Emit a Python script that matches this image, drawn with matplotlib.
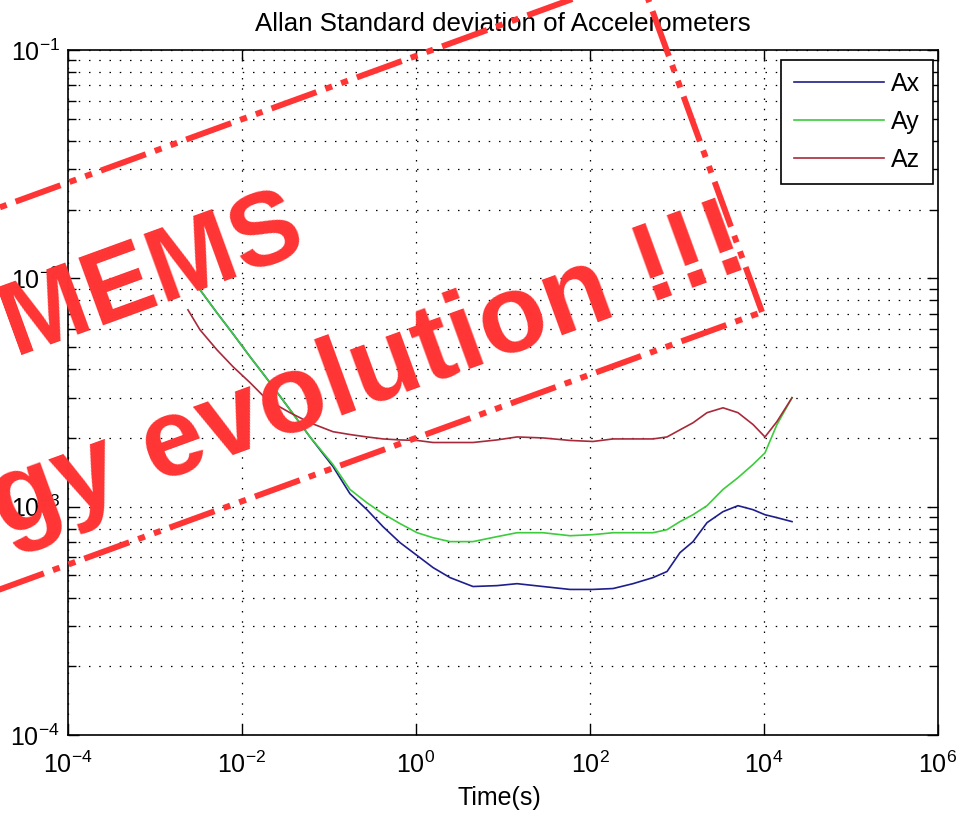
import numpy as np
import matplotlib
matplotlib.use("Agg")
import matplotlib.pyplot as plt
from matplotlib.lines import Line2D
from matplotlib.ticker import FixedLocator, LogLocator, NullLocator, FuncFormatter

plt.rcParams["font.family"] = ["Liberation Sans", "DejaVu Sans"]
plt.rcParams["mathtext.default"] = "regular"

# ---------------------------------------------------------------------------
# Data
# ---------------------------------------------------------------------------
tau = [2.39e-3, 3.29e-3, 5.16e-3, 7.89e-3, 1.24e-2, 1.94e-2, 3.56e-2, 6.05e-2,
       0.111, 0.174, 0.273, 0.418, 0.655, 1.03, 1.57, 2.46, 4.52, 8.53, 14.5,
       28.8, 58.9, 108, 184, 312, 530, 768, 1082, 1528, 2213, 3380, 5025,
       7475, 10260, 14100, 20990]

ax_dev = [1.05e-2, 8.91e-3, 7.06e-3, 5.71e-3, 4.53e-3, 3.63e-3, 2.66e-3, 2.02e-3,
          1.50e-3, 1.14e-3, 9.70e-4, 8.17e-4, 6.96e-4, 6.11e-4, 5.41e-4, 4.89e-4,
          4.47e-4, 4.51e-4, 4.60e-4, 4.47e-4, 4.34e-4, 4.34e-4, 4.38e-4, 4.60e-4,
          4.89e-4, 5.20e-4, 6.29e-4, 7.03e-4, 8.51e-4, 9.51e-4, 1.01e-3, 9.70e-4,
          9.22e-4, 8.95e-4, 8.60e-4]

ay_dev = [1.05e-2, 8.91e-3, 7.06e-3, 5.71e-3, 4.53e-3, 3.63e-3, 2.66e-3, 2.02e-3,
          1.53e-3, 1.19e-3, 1.04e-3, 9.31e-4, 8.43e-4, 7.69e-4, 7.31e-4, 7.03e-4,
          7.03e-4, 7.39e-4, 7.69e-4, 7.69e-4, 7.46e-4, 7.54e-4, 7.69e-4, 7.69e-4,
          7.69e-4, 7.93e-4, 8.60e-4, 9.22e-4, 1.01e-3, 1.19e-3, 1.34e-3, 1.53e-3,
          1.72e-3, 2.29e-3, 3.00e-3]

az_dev = [7.28e-3, 5.95e-3, 4.86e-3, 4.10e-3, 3.49e-3, 2.94e-3, 2.58e-3, 2.33e-3,
          2.13e-3, 2.07e-3, 2.02e-3, 1.98e-3, 1.96e-3, 1.95e-3, 1.91e-3, 1.91e-3,
          1.91e-3, 1.96e-3, 2.02e-3, 2.00e-3, 1.95e-3, 1.93e-3, 1.98e-3, 1.98e-3,
          1.98e-3, 2.02e-3, 2.17e-3, 2.33e-3, 2.58e-3, 2.71e-3, 2.58e-3, 2.29e-3,
          2.02e-3, 2.36e-3, 3.00e-3]

series_labels = ["Ax", "Ay", "Az"]
series_colors = ["#1e1e8c", "#3ccc3c", "#a82a3a"]
x_ticks = [1e-4, 1e-2, 1e0, 1e2, 1e4, 1e6]

W, H = 970, 819
FS = 18
RED = "#ff3434"

fig = plt.figure(figsize=(W / 100, H / 100), dpi=100)
ax = fig.add_axes([68 / W, 1 - 735 / H, 870 / W, 685 / H])

for y, lab, col in zip([ax_dev, ay_dev, az_dev], series_labels, series_colors):
    ax.plot(tau, y, color=col, lw=1.2, label=lab)

ax.set_xscale("log")
ax.set_yscale("log")
ax.set_xlim(1e-4, 1e6)
ax.set_ylim(1e-4, 1e-1)

sup = FuncFormatter(lambda v, p: r"$10^{%d}$" % int(round(np.log10(v))))
ax.xaxis.set_major_locator(FixedLocator(x_ticks))
ax.xaxis.set_minor_locator(NullLocator())
ax.xaxis.set_major_formatter(sup)
ax.yaxis.set_major_locator(LogLocator(base=10))
ax.yaxis.set_minor_locator(LogLocator(base=10, subs=np.arange(2, 10)))
ax.yaxis.set_major_formatter(sup)

ax.tick_params(which="both", direction="in", top=True, right=True, labelsize=FS)
ax.tick_params(which="major", length=8, width=1)
ax.tick_params(which="minor", length=6, width=1)
ax.tick_params(axis="x", pad=12)
ax.tick_params(axis="y", pad=6)

dots = (0, (1.2, 7))
ax.grid(True, which="major", axis="both", color="k", lw=0.9, linestyle=dots)
ax.grid(True, which="minor", axis="y", color="k", lw=0.9, linestyle=dots)
for s in ax.spines.values():
    s.set_linewidth(1.2)

ax.set_title("Allan Standard deviation of Accelerometers", fontsize=18.6, pad=14)
ax.set_xlabel("Time(s)", fontsize=FS)
ax.xaxis.set_label_coords((499 - 68) / 870, -0.075)

leg = ax.legend(loc="upper right", bbox_to_anchor=(0.994, 0.986), fontsize=FS,
                fancybox=False, framealpha=1, edgecolor="k", borderpad=0.5,
                labelspacing=0.55, handlelength=3.6, handletextpad=0.3,
                borderaxespad=0)
leg.get_frame().set_linewidth(1.2)

# ---------------------------------------------------------------------------
# Red slide overlay (rotated dash-dot-dot frame and text), pixel geometry
# ---------------------------------------------------------------------------
ang = np.deg2rad(20)
br = np.array([762.0, 312.0])
side = np.array([-np.sin(ang), -np.cos(ang)]) * 359
along = np.array([-np.cos(ang), np.sin(ang)]) * 1100
corners = [br + along, br, br + side, br + side + along]


def to_fig(p):
    return p[0] / W, 1 - p[1] / H


frame_style = (0, (8, 1.6, 1.2, 1.6, 1.2, 1.6))
for a, b in zip(corners[:-1], corners[1:]):
    (x0, y0), (x1, y1) = to_fig(a), to_fig(b)
    fig.add_artist(Line2D([x0, x1], [y0, y1], transform=fig.transFigure,
                          color=RED, lw=4.3, linestyle=frame_style,
                          solid_capstyle="butt", zorder=10))

fig.text(*to_fig((309, 248)), "MEMS", color=RED, fontsize=75, fontweight="bold",
         rotation=20, rotation_mode="anchor", ha="right", va="baseline", zorder=11)
fig.text(*to_fig((752, 266)), "gy evolution !!!", color=RED, fontsize=80,
         fontweight="bold", rotation=20, rotation_mode="anchor", ha="right",
         va="baseline", zorder=11)

fig.savefig("out.png", dpi=100)
